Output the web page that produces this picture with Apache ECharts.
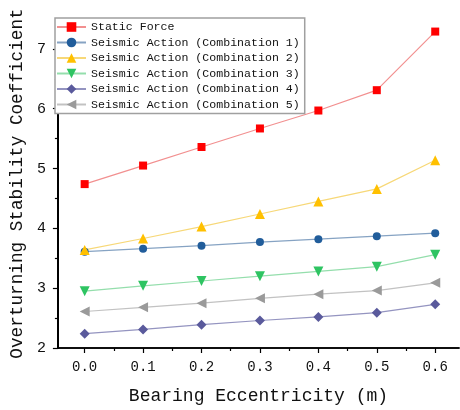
<!DOCTYPE html>
<html><head><meta charset="utf-8">
<script src="https://cdn.jsdelivr.net/npm/echarts@6/dist/echarts.min.js"></script>
<style>html,body{margin:0;padding:0;background:#fff}#c{width:460px;height:410px}</style>
</head><body><div id="c"></div>
<script>
const xValues = [0.0, 0.1, 0.2, 0.3, 0.4, 0.5, 0.6];
const xTickLabels = [0.0, 0.1, 0.2, 0.3, 0.4, 0.5, 0.6];
const xMinorTicks = [0.05, 0.15, 0.25, 0.35, 0.45, 0.55];
const yTickLabels = [2, 3, 4, 5, 6, 7];
const yMinorTicks = [2.5, 3.5, 4.5, 5.5, 6.5];
const seriesNames = ['Static Force','Seismic Action (Combination 1)','Seismic Action (Combination 2)','Seismic Action (Combination 3)','Seismic Action (Combination 4)','Seismic Action (Combination 5)'];
const staticForce = [4.74, 5.05, 5.36, 5.67, 5.97, 6.31, 7.29];
const comb1 = [3.61, 3.66, 3.71, 3.77, 3.82, 3.87, 3.92];
const comb2 = [3.64, 3.83, 4.03, 4.24, 4.45, 4.66, 5.14];
const comb3 = [2.95, 3.04, 3.12, 3.20, 3.28, 3.36, 3.56];
const comb4 = [2.24, 2.31, 2.39, 2.46, 2.52, 2.59, 2.73];
const comb5 = [2.61, 2.68, 2.75, 2.83, 2.90, 2.96, 3.09];

const styles = [
  {color:'#ff0000', line:'#f29090', symbol:'rect', size:8, rot:0},
  {color:'#215d9b', line:'#86a3c3', symbol:'circle', size:8, rot:0},
  {color:'#ffc000', line:'#f7d878', symbol:'triangle', size:10, rot:0},
  {color:'#2ec462', line:'#94deac', symbol:'triangle', size:10, rot:180},
  {color:'#5a5a9c', line:'#9494c0', symbol:'diamond', size:10, rot:0},
  {color:'#9a9a9a', line:'#c2c2c2', symbol:'triangle', size:10, rot:90}
];
const dataSets = [staticForce, comb1, comb2, comb3, comb4, comb5];
const font = 'Liberation Mono';

const chart = echarts.init(document.getElementById('c'), null, {renderer:'canvas'});
chart.setOption({
  animation:false,
  grid:{left:54, right:1, top:19, bottom:60},
  legend:{
    orient:'vertical', left:55, top:18,
    padding:[3,5,3,1], itemGap:3.5, itemWidth:29, itemHeight:12,
    backgroundColor:'#fff', borderColor:'#a0a0a0', borderWidth:1.5,
    textStyle:{fontFamily:font, fontSize:11.6, color:'#111'},
    data:seriesNames
  },
  xAxis:[{
    type:'value', min:-0.0458, max:0.6407, position:'bottom',
    name:'Bearing Eccentricity (m)', nameLocation:'middle', nameGap:39,
    nameTextStyle:{fontFamily:font, fontSize:18, color:'#111'},
    axisLine:{show:true, onZero:false, lineStyle:{color:'#000', width:1.5}},
    axisTick:{show:true, inside:false, length:5, customValues:xTickLabels, lineStyle:{color:'#000', width:1.2}},
    axisLabel:{customValues:xTickLabels, margin:12, fontFamily:font, fontSize:14, color:'#111', formatter:v=>v.toFixed(1)},
    splitLine:{show:false}
  },{
    type:'value', min:-0.0458, max:0.6407, position:'bottom',
    axisLine:{show:true, onZero:false, lineStyle:{color:'#000', width:1.5}},
    axisTick:{show:true, length:3, customValues:xMinorTicks, lineStyle:{color:'#000', width:1.2}},
    axisLabel:{show:false}, splitLine:{show:false}
  }],
  yAxis:[{
    type:'value', min:2, max:7.5, position:'left',
    name:'Overturning Stability Coefficient', nameLocation:'middle', nameGap:27,
    nameTextStyle:{fontFamily:font, fontSize:17.7, color:'#111'},
    axisLine:{show:true, onZero:false, lineStyle:{color:'#000', width:2}},
    axisTick:{show:true, length:5, customValues:yTickLabels, lineStyle:{color:'#000', width:1.2}},
    axisLabel:{customValues:yTickLabels, margin:12, fontFamily:font, fontSize:15, color:'#111'},
    splitLine:{show:false}
  },{
    type:'value', min:2, max:7.5, position:'left',
    axisLine:{show:true, onZero:false, lineStyle:{color:'#000', width:2}},
    axisTick:{show:true, length:3, customValues:yMinorTicks, lineStyle:{color:'#000', width:1.2}},
    axisLabel:{show:false}, splitLine:{show:false}
  }],
  series: dataSets.map((d,i)=>({
    name:seriesNames[i], type:'line', xAxisIndex:0, yAxisIndex:0,
    data:d.map((v,j)=>[xValues[j], v]),
    symbol:styles[i].symbol, symbolSize:styles[i].size, symbolRotate:styles[i].rot,
    showAllSymbol:true,
    itemStyle:{color:styles[i].color},
    lineStyle:{color:styles[i].line, width:1.2}
  }))
});
</script></body></html>
